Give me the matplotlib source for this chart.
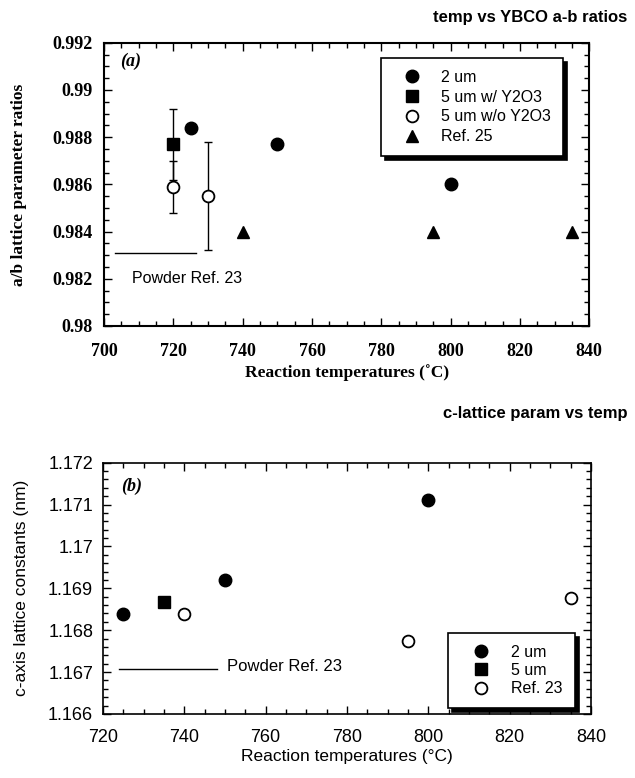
import matplotlib
matplotlib.use("Agg")
import matplotlib.pyplot as plt
from matplotlib.font_manager import FontProperties
from matplotlib.ticker import MultipleLocator

# panel (a): a/b lattice parameter ratios
t_2um_a = [725, 750, 800]
r_2um_a = [0.9884, 0.9877, 0.9860]
t_5um_w = [720]
r_5um_w = [0.9877]
e_5um_w = [0.0015]
t_5um_wo = [720, 730]
r_5um_wo = [0.9859, 0.9855]
e_5um_wo = [0.0011, 0.0023]
t_ref25 = [740, 795, 835]
r_ref25 = [0.9840, 0.9840, 0.9840]
powder_a_t = [703, 726.5]
powder_a_r = 0.9831
yticks_a = [0.98, 0.982, 0.984, 0.986, 0.988, 0.99, 0.992]
ylabels_a = ["0.98", "0.982", "0.984", "0.986", "0.988", "0.99", "0.992"]

# panel (b): c-axis lattice constants
t_2um_b = [725, 750, 800]
c_2um_b = [1.16839, 1.16920, 1.17110]
t_5um_b = [735]
c_5um_b = [1.16867]
t_ref23 = [740, 795, 835]
c_ref23 = [1.16839, 1.16775, 1.16877]
powder_b_t = [724, 748]
powder_b_c = 1.16707
yticks_b = [1.166, 1.167, 1.168, 1.169, 1.17, 1.171, 1.172]
ylabels_b = ["1.166", "1.167", "1.168", "1.169", "1.17", "1.171", "1.172"]

serif_b = dict(family=["Liberation Serif", "DejaVu Serif"], weight="bold")
sans = ["Liberation Sans", "DejaVu Sans"]

fig = plt.figure(figsize=(6.35, 7.78), dpi=100)


def style_axes(ax, lw):
    for s in ax.spines.values():
        s.set_linewidth(lw)
    ax.tick_params(which="both", direction="in", top=True, right=True, width=1)
    ax.tick_params(which="major", length=6)
    ax.tick_params(which="minor", length=3.5)


def legend_shadow(ax, anchor, fontsize, spacing, pad, hlen):
    leg = ax.legend(loc="upper left", bbox_to_anchor=anchor, borderaxespad=0,
                    fancybox=False, edgecolor="black", framealpha=1,
                    shadow={"ox": 3, "oy": -3, "facecolor": "black",
                            "edgecolor": "black", "alpha": 1},
                    prop={"family": sans, "size": fontsize},
                    handlelength=hlen, handletextpad=0.6, labelspacing=spacing,
                    borderpad=pad)
    leg.get_frame().set_linewidth(1.2)
    return leg


ms = 9

# ---- (a)
ax1 = fig.add_axes([0.164, 0.581, 0.764, 0.364])
ax1.errorbar(t_5um_w, r_5um_w, yerr=e_5um_w, fmt="none", ecolor="black",
             elinewidth=1, capsize=3, capthick=1)
ax1.errorbar(t_5um_wo, r_5um_wo, yerr=e_5um_wo, fmt="none", ecolor="black",
             elinewidth=1, capsize=3, capthick=1)
ax1.plot(t_2um_a, r_2um_a, "o", color="black", ms=ms, label="2 um")
ax1.plot(t_5um_w, r_5um_w, "s", color="black", ms=ms - 0.5, label="5 um w/ Y2O3")
ax1.plot(t_5um_wo, r_5um_wo, "o", mfc="white", mec="black", mew=1.3, ms=ms - 0.5,
         label="5 um w/o Y2O3")
ax1.plot(t_ref25, r_ref25, "^", color="black", ms=ms - 1, label="Ref. 25")
ax1.plot(powder_a_t, [powder_a_r] * 2, color="black", lw=1)
ax1.text(708, 0.9820, "Powder Ref. 23", family=sans, fontsize=11.5, va="center")
ax1.set_xlim(700, 840)
ax1.set_ylim(0.98, 0.992)
ax1.xaxis.set_major_locator(MultipleLocator(20))
ax1.xaxis.set_minor_locator(MultipleLocator(5))
ax1.set_yticks(yticks_a)
ax1.set_yticklabels(ylabels_a)
ax1.yaxis.set_minor_locator(MultipleLocator(0.0005))
style_axes(ax1, 1.5)
for lab in ax1.get_xticklabels() + ax1.get_yticklabels():
    lab.set_fontproperties(FontProperties(**serif_b, size=13))
ax1.tick_params(axis="x", which="major", pad=12)
ax1.tick_params(axis="y", which="major", pad=8)
ax1.set_xlabel("Reaction temperatures (˚C)", fontsize=12.5, **serif_b)
ax1.set_ylabel("a/b lattice parameter ratios", fontsize=12.5, **serif_b)
ax1.xaxis.set_label_coords(0.5, -0.134)
ax1.yaxis.set_label_coords(-0.16, 0.5)
ax1.text(0.033, 0.933, "(a)", transform=ax1.transAxes, fontsize=13,
         family=["Liberation Serif"], weight="bold", style="italic", va="center")
legend_shadow(ax1, (0.571, 0.947), 11.5, 0.3, 0.75, 2.4)

# ---- (b)
ax2 = fig.add_axes([0.162, 0.0823, 0.769, 0.323])
ax2.plot(t_2um_b, c_2um_b, "o", color="black", ms=ms, label="2 um")
ax2.plot(t_5um_b, c_5um_b, "s", color="black", ms=ms - 0.5, label="5 um")
ax2.plot(t_ref23, c_ref23, "o", mfc="white", mec="black", mew=1.3, ms=ms - 0.5,
         label="Ref. 23")
ax2.plot(powder_b_t, [powder_b_c] * 2, color="black", lw=1)
ax2.text(750.6, 1.16713, "Powder Ref. 23", family=sans, fontsize=12, va="center")
ax2.set_xlim(720, 840)
ax2.set_ylim(1.166, 1.172)
ax2.xaxis.set_major_locator(MultipleLocator(20))
ax2.xaxis.set_minor_locator(MultipleLocator(5))
ax2.set_yticks(yticks_b)
ax2.set_yticklabels(ylabels_b)
ax2.yaxis.set_minor_locator(MultipleLocator(0.0002))
style_axes(ax2, 1.2)
for lab in ax2.get_xticklabels() + ax2.get_yticklabels():
    lab.set_family(sans)
    lab.set_fontsize(13)
ax2.tick_params(axis="x", which="major", pad=11)
ax2.tick_params(axis="y", which="major", pad=7)
ax2.set_xlabel("Reaction temperatures (°C)", fontsize=12.5, family=sans)
ax2.set_ylabel("c-axis lattice constants (nm)", fontsize=12.5, family=sans)
ax2.xaxis.set_label_coords(0.5, -0.139)
ax2.yaxis.set_label_coords(-0.152, 0.5)
ax2.text(0.037, 0.904, "(b)", transform=ax2.transAxes, fontsize=13,
         family=["Liberation Serif"], weight="bold", style="italic", va="center")
legend_shadow(ax2, (0.707, 0.323), 11.5, 0.2, 0.75, 2.6)

fig.text(0.988, 0.978, "temp vs YBCO a-b ratios", ha="right", va="center",
         family=sans, weight="bold", fontsize=12)
fig.text(0.988, 0.469, "c-lattice param vs temp", ha="right", va="center",
         family=sans, weight="bold", fontsize=12)

fig.savefig("out.png", dpi=100)
